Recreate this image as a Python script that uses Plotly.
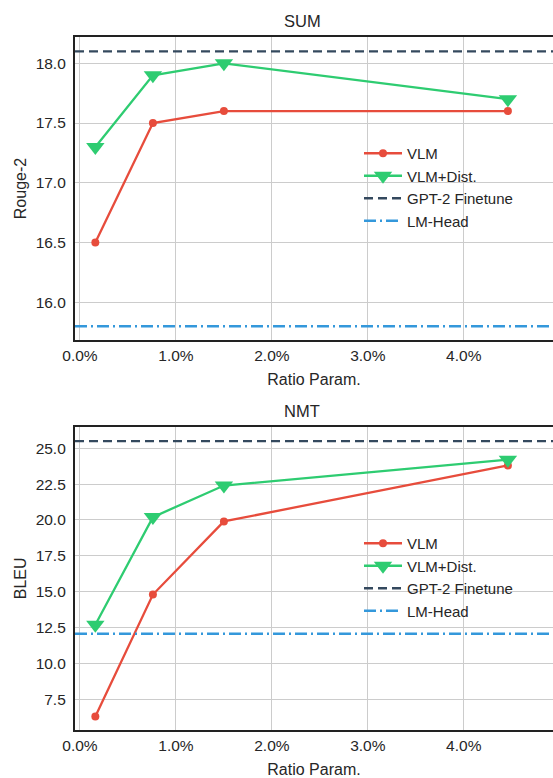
import plotly.graph_objects as go

ratio = [0.16, 0.76, 1.5, 4.46]

sum_vlm = [16.5, 17.5, 17.6, 17.6]
sum_dist = [17.3, 17.9, 18.0, 17.7]
sum_gpt2 = 18.1
sum_lmhead = 15.8

nmt_vlm = [6.3, 14.8, 19.9, 23.8]
nmt_dist = [12.7, 20.2, 22.4, 24.2]
nmt_gpt2 = 25.5
nmt_lmhead = 12.07

x_ticks = [0, 1, 2, 3, 4]
x_tick_labels = ["0.0%", "1.0%", "2.0%", "3.0%", "4.0%"]
sum_yticks = [16.0, 16.5, 17.0, 17.5, 18.0]
nmt_yticks = [7.5, 10.0, 12.5, 15.0, 17.5, 20.0, 22.5, 25.0]

RED = "#e74c3c"
GREEN = "#2ecc71"
DARK = "#34495e"
BLUE = "#3498db"
FONT = "Liberation Sans, Arial, sans-serif"
W, H = 553, 778

XR = [-0.052, 4.93]

fig = go.Figure()

def add_panel(xa, ya, leg, vlm, dist, gpt2, lmh):
    fig.add_trace(go.Scatter(x=ratio, y=vlm, mode="lines+markers", name="VLM",
                             line=dict(color=RED, width=2.3), marker=dict(symbol="circle", size=8, color=RED),
                             xaxis=xa, yaxis=ya, legend=leg))
    fig.add_trace(go.Scatter(x=ratio, y=dist, mode="lines+markers", name="VLM+Dist.",
                             line=dict(color=GREEN, width=2.3),
                             marker=dict(symbol="triangle-down", size=16, color=GREEN),
                             xaxis=xa, yaxis=ya, legend=leg))
    fig.add_trace(go.Scatter(x=XR, y=[gpt2, gpt2], mode="lines", name="GPT-2 Finetune",
                             line=dict(color=DARK, width=2.3, dash="9px,5px"),
                             xaxis=xa, yaxis=ya, legend=leg))
    fig.add_trace(go.Scatter(x=XR, y=[lmh, lmh], mode="lines", name="LM-Head",
                             line=dict(color=BLUE, width=2.3, dash="12px,4px,2px,4px"),
                             xaxis=xa, yaxis=ya, legend=leg))

add_panel("x", "y", "legend", sum_vlm, sum_dist, sum_gpt2, sum_lmhead)
add_panel("x2", "y2", "legend2", nmt_vlm, nmt_dist, nmt_gpt2, nmt_lmhead)

xd = [75 / W, 1.0]
top_d = [1 - 340 / H, 1 - 37 / H]
bot_d = [1 - 730 / H, 1 - 426.7 / H]

TXT = "#262626"
axis_common = dict(showgrid=True, gridcolor="#cccccc", gridwidth=1.3,
                   showline=True, linecolor="#222222", linewidth=2.2, automargin=False,
                   zeroline=False, ticks="", tickfont=dict(size=15.5, color=TXT, family=FONT))

xcommon = dict(axis_common, range=XR, tickvals=x_ticks, ticktext=x_tick_labels, mirror=True,
               title=dict(text="Ratio Param.", font=dict(size=16, color=TXT, family=FONT), standoff=11))

fig.update_layout(
    width=W, height=H,
    margin=dict(l=0, r=0, t=0, b=0),
    paper_bgcolor="white", plot_bgcolor="white",
    font=dict(family=FONT, color=TXT),
    showlegend=True,
    xaxis=dict(xcommon, domain=xd, anchor="y"),
    yaxis=dict(axis_common, domain=top_d, anchor="x", range=[15.685, 18.22], tickvals=sum_yticks,
               ticktext=[f"{v:.1f}" for v in sum_yticks], ticklabelstandoff=4,
               title=dict(text="Rouge-2", font=dict(size=16, color=TXT, family=FONT), standoff=5)),
    xaxis2=dict(xcommon, domain=xd, anchor="y2"),
    yaxis2=dict(axis_common, domain=bot_d, anchor="x2", range=[5.36, 26.5], tickvals=nmt_yticks,
                ticktext=[f"{v:.1f}" for v in nmt_yticks], ticklabelstandoff=4,
                title=dict(text="BLEU", font=dict(size=16, color=TXT, family=FONT), standoff=5)),
    legend=dict(x=359 / W, y=1 - 137 / H, xanchor="left", yanchor="top", bgcolor="rgba(0,0,0,0)",
                font=dict(size=15, color=TXT, family=FONT), itemwidth=38, tracegroupgap=0),
    legend2=dict(x=359 / W, y=1 - (390 + 137) / H, xanchor="left", yanchor="top", bgcolor="rgba(0,0,0,0)",
                 font=dict(size=15, color=TXT, family=FONT), itemwidth=38, tracegroupgap=0),
    annotations=[
        dict(text="SUM", x=302 / W, y=1 - 21 / H, xref="paper", yref="paper", showarrow=False,
             xanchor="center", yanchor="middle", font=dict(size=16.5, color=TXT, family=FONT)),
        dict(text="NMT", x=302 / W, y=1 - (390 + 21) / H, xref="paper", yref="paper", showarrow=False,
             xanchor="center", yanchor="middle", font=dict(size=16.5, color=TXT, family=FONT)),
    ],
)

fig.write_html("out.html", config={"displayModeBar": False},
               post_script="document.body.style.margin='0';document.body.style.overflow='hidden';")
